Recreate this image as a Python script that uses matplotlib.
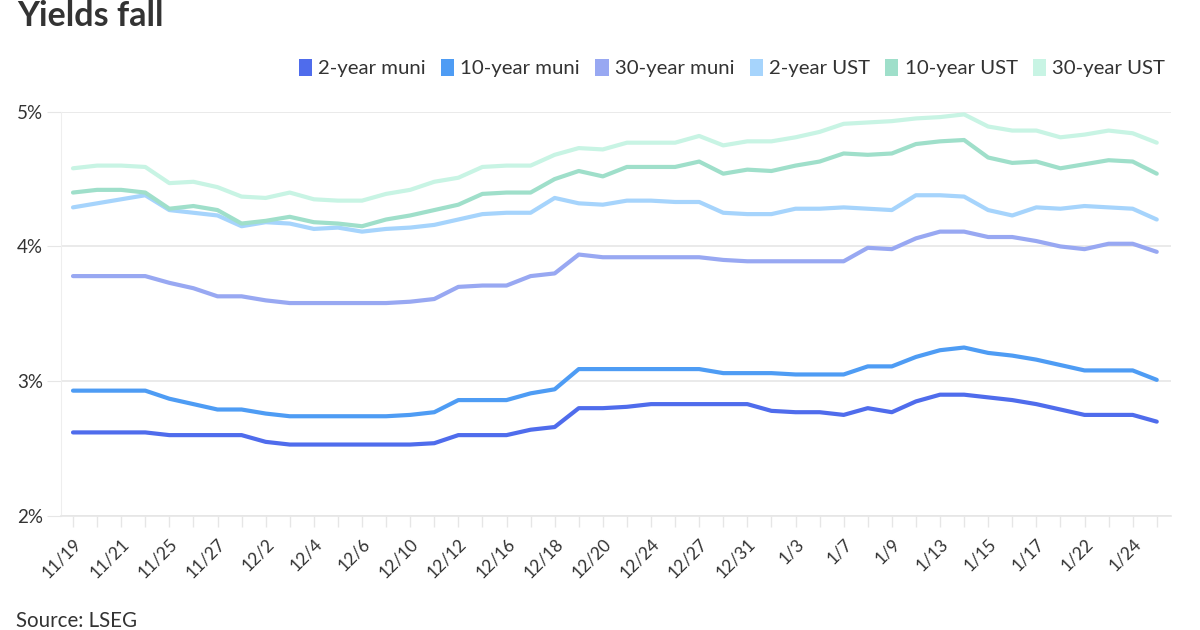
"""
Yields fall - muni vs. UST yields, recreated with matplotlib
"""

import matplotlib

matplotlib.use('Agg')

import matplotlib.pyplot as plt
from matplotlib.patches import Patch

plt.rcParams['font.family'] = ['Lato', 'DejaVu Sans']

# Trading days shown on the axis
dates = ['11/19', '11/20', '11/21', '11/22', '11/25', '11/26', '11/27', '11/29',
         '12/2', '12/3', '12/4', '12/5', '12/6', '12/9', '12/10', '12/11',
         '12/12', '12/13', '12/16', '12/17', '12/18', '12/19', '12/20', '12/23',
         '12/24', '12/26', '12/27', '12/30', '12/31', '1/2', '1/3', '1/6',
         '1/7', '1/8', '1/9', '1/10', '1/13', '1/14', '1/15', '1/16',
         '1/17', '1/21', '1/22', '1/23', '1/24', '1/27']

muni_2y = [2.62, 2.62, 2.62, 2.62, 2.60, 2.60, 2.60, 2.60, 2.55, 2.53,
           2.53, 2.53, 2.53, 2.53, 2.53, 2.54, 2.60, 2.60, 2.60, 2.64,
           2.66, 2.80, 2.80, 2.81, 2.83, 2.83, 2.83, 2.83, 2.83, 2.78,
           2.77, 2.77, 2.75, 2.80, 2.77, 2.85, 2.90, 2.90, 2.88, 2.86,
           2.83, 2.79, 2.75, 2.75, 2.75, 2.70]

muni_10y = [2.93, 2.93, 2.93, 2.93, 2.87, 2.83, 2.79, 2.79, 2.76, 2.74,
            2.74, 2.74, 2.74, 2.74, 2.75, 2.77, 2.86, 2.86, 2.86, 2.91,
            2.94, 3.09, 3.09, 3.09, 3.09, 3.09, 3.09, 3.06, 3.06, 3.06,
            3.05, 3.05, 3.05, 3.11, 3.11, 3.18, 3.23, 3.25, 3.21, 3.19,
            3.16, 3.12, 3.08, 3.08, 3.08, 3.01]

muni_30y = [3.78, 3.78, 3.78, 3.78, 3.73, 3.69, 3.63, 3.63, 3.60, 3.58,
            3.58, 3.58, 3.58, 3.58, 3.59, 3.61, 3.70, 3.71, 3.71, 3.78,
            3.80, 3.94, 3.92, 3.92, 3.92, 3.92, 3.92, 3.90, 3.89, 3.89,
            3.89, 3.89, 3.89, 3.99, 3.98, 4.06, 4.11, 4.11, 4.07, 4.07,
            4.04, 4.00, 3.98, 4.02, 4.02, 3.96]

ust_2y = [4.29, 4.32, 4.35, 4.38, 4.27, 4.25, 4.23, 4.15, 4.18, 4.17,
          4.13, 4.14, 4.11, 4.13, 4.14, 4.16, 4.20, 4.24, 4.25, 4.25,
          4.36, 4.32, 4.31, 4.34, 4.34, 4.33, 4.33, 4.25, 4.24, 4.24,
          4.28, 4.28, 4.29, 4.28, 4.27, 4.38, 4.38, 4.37, 4.27, 4.23,
          4.29, 4.28, 4.30, 4.29, 4.28, 4.20]

ust_10y = [4.40, 4.42, 4.42, 4.40, 4.28, 4.30, 4.27, 4.17, 4.19, 4.22,
           4.18, 4.17, 4.15, 4.20, 4.23, 4.27, 4.31, 4.39, 4.40, 4.40,
           4.50, 4.56, 4.52, 4.59, 4.59, 4.59, 4.63, 4.54, 4.57, 4.56,
           4.60, 4.63, 4.69, 4.68, 4.69, 4.76, 4.78, 4.79, 4.66, 4.62,
           4.63, 4.58, 4.61, 4.64, 4.63, 4.54]

ust_30y = [4.58, 4.60, 4.60, 4.59, 4.47, 4.48, 4.44, 4.37, 4.36, 4.40,
           4.35, 4.34, 4.34, 4.39, 4.42, 4.48, 4.51, 4.59, 4.60, 4.60,
           4.68, 4.73, 4.72, 4.77, 4.77, 4.77, 4.82, 4.75, 4.78, 4.78,
           4.81, 4.85, 4.91, 4.92, 4.93, 4.95, 4.96, 4.98, 4.89, 4.86,
           4.86, 4.81, 4.83, 4.86, 4.84, 4.77]

series_names = ['2-year muni', '10-year muni', '30-year muni',
                '2-year UST', '10-year UST', '30-year UST']
series_values = [muni_2y, muni_10y, muni_30y, ust_2y, ust_10y, ust_30y]

y_ticks = [2, 3, 4, 5]
y_tick_labels = ['2%', '3%', '4%', '5%']

COLORS = ['#4f6cec', '#4e9cf4', '#98a8f2', '#a6d4fc', '#9fdfca', '#c8f4e4']
TEXT = '#333333'
GRID = '#e6e6e6'


def draw_chart() -> None:
    fig = plt.figure(figsize=(12, 6.3), dpi=100)
    ax = fig.add_axes([0.0508, 0.181, 0.9252, 0.6417])

    x = list(range(len(dates)))
    for name, vals, color in zip(series_names, series_values, COLORS):
        ax.plot(x, vals, color=color, linewidth=3, solid_joinstyle='round',
                solid_capstyle='round', label=name)

    ax.set_xlim(-0.5, len(dates) - 0.4)
    ax.set_ylim(2, 5)

    # horizontal grid
    ax.set_yticks(y_ticks)
    ax.set_yticklabels(y_tick_labels, fontsize=13.5, color=TEXT)
    ax.yaxis.grid(True, color=GRID, linewidth=1.2)
    ax.set_axisbelow(True)
    ax.tick_params(axis='y', length=10, color=GRID, pad=3)

    # category axis: tick at every day, label every other
    ax.set_xticks(x)
    ax.set_xticklabels([d if i % 2 == 0 else '' for i, d in enumerate(dates)],
                       rotation=45, ha='right', rotation_mode='anchor',
                       fontsize=12.5, color=TEXT)
    ax.tick_params(axis='x', length=8, color=GRID, width=1, pad=6)

    for side in ['top', 'right']:
        ax.spines[side].set_visible(False)
    ax.spines['left'].set_color('#eeeeee')
    ax.spines['bottom'].set_color(GRID)
    ax.spines['bottom'].set_linewidth(1.2)

    # title and source
    fig.text(0.014, 1 - 26 / 630, 'Yields fall', fontsize=24.5, fontweight='bold',
             color=TEXT, va='baseline', ha='left')
    fig.text(0.013, 1 - 627 / 630, 'Source: LSEG', fontsize=14.8, color=TEXT,
             va='baseline', ha='left')

    # legend across the top right
    handles = [Patch(facecolor=c, edgecolor='none') for c in COLORS]
    fig.legend(handles, series_names, loc='center right',
               bbox_to_anchor=(0.971, 1 - 68 / 630), ncol=6, frameon=False,
               fontsize=14.7, handlelength=0.65, handleheight=0.9,
               handletextpad=0.3, columnspacing=0.75, labelcolor=TEXT,
               borderaxespad=0, borderpad=0)

    plt.savefig('out.png', dpi=100, facecolor='white')
    plt.close()


if __name__ == "__main__":
    draw_chart()
